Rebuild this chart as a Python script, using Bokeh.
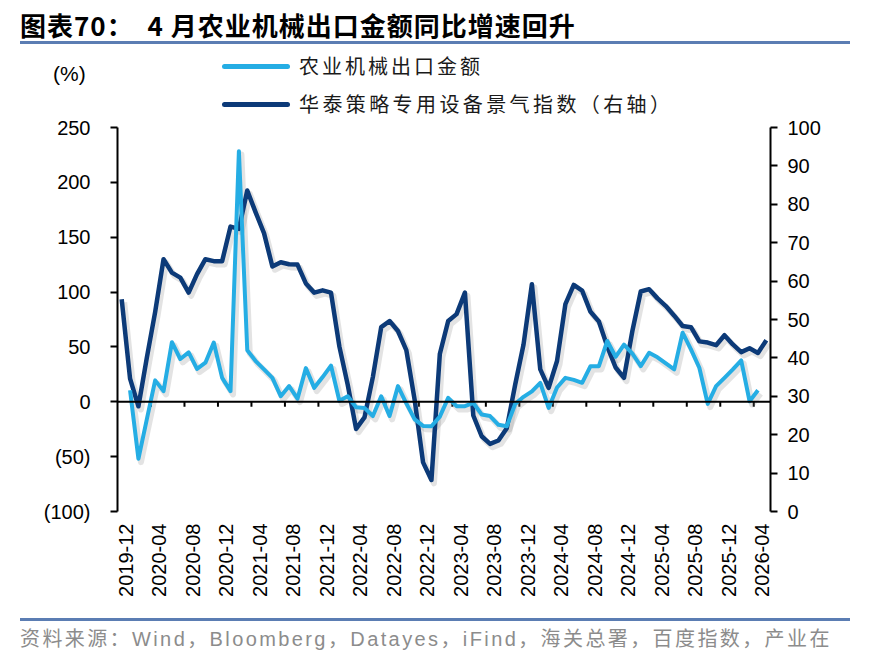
import numpy as np
from bokeh.plotting import figure
from bokeh.layouts import column
from bokeh.models import Range1d, LinearAxis, FixedTicker, Span, ColumnDataSource, Div
from bokeh.transform import dodge
from bokeh.embed import file_html
from bokeh.resources import INLINE

# ---------------- data ----------------
months = []
y, m = 2019, 12
while (y, m) <= (2026, 5):
    months.append(f"{y}-{m:02d}")
    m += 1
    if m > 12:
        y, m = y + 1, 1

# 农业机械出口金额 同比 (%) - left axis, 2019-12 .. 2026-05 (nan = no data)
agri_export = [np.nan, 10.5, -52, -16, 19.5, 9.7, 54.3, 39, 45, 30,
               35.6, 54, 21.8, 9.7, 228.4, 47, 37.1, 29.5, 21.8, 5.1,
               14.3, 2.8, 30.7, 12.7, 22.5, 33, 1, 5, -5, -5.6,
               -13, 5, -13, 14.3, -1.5, -16, -22, -22.3, -13.5, 3.6,
               -4, -4, -1, -11.6, -13, -21, -22.3, -2, 4.5, 9.5,
               17.3, -5.6, 13, 21.8, 20, 17.3, 32.5, 32.5, 55.4, 41,
               52, 44, 32.5, 44.7, 40.5, 35, 29.5, 63, 47.8, 31,
               -1.9, 14.3, 21.8, 29.5, 37.7, 0.5, 10.5, np.nan]

# 华泰策略专用设备景气指数 - right axis
equip_index = [55.3, 34.6, 27.4, 40, 52, 65.7, 62.2, 60.9, 57, 61.8,
               65.7, 65.2, 65.2, 74.2, 73.6, 83.6, 77.9, 72.5, 63.8, 64.9,
               64.4, 64.3, 59.4, 57, 57.6, 57, 43, 33, 21.5, 24.5,
               35, 48, 49.6, 47, 42, 29, 12.8, 8.2, 41, 49.6,
               51.4, 57, 25, 19.6, 17.6, 18.5, 21.7, 33, 43.5, 59.2,
               37, 32.2, 39.2, 54, 59, 57.5, 52, 49.5, 43, 37.5,
               34.8, 47, 57.3, 57.9, 55.5, 53.5, 51, 48.3, 48, 44.3,
               44, 43.3, 45.9, 43.5, 41.5, 42.5, 41.3, 44.6]

left_ticks = [-100, -50, 0, 50, 100, 150, 200, 250]
right_ticks = [0, 10, 20, 30, 40, 50, 60, 70, 80, 90, 100]
label_idx = list(range(0, len(months) - 1, 4))   # 2019-12, 2020-04, ... 2026-04

series_names = ["农业机械出口金额", "华泰策略专用设备景气指数（右轴）"]
title_text = "图表70：&nbsp;&nbsp;4 月农业机械出口金额同比增速回升"
source_text = "资料来源：Wind，Bloomberg，Datayes，iFind，海关总署，百度指数，产业在"
unit_text = "(%)"

LIGHT = "#25ADE4"
DARK = "#0C3A78"
RULE = "#5B7DB3"
CJK = "'Noto Sans CJK SC'"
LAT = "'Liberation Sans'"
TICK_FONT_SIZE = "20px"

# ---------------- header (title, rule, unit, legend) ----------------
H_TOP = 115
header_html = f"""
<div style="position:relative;width:870px;height:{H_TOP}px;overflow:visible;">
  <div style="position:absolute;left:20px;top:12px;font-family:{CJK};font-size:26px;font-weight:bold;
       line-height:26px;letter-spacing:1px;white-space:nowrap;color:#000;">{title_text}</div>
  <div style="position:absolute;left:20px;top:41px;width:830px;height:3px;background:{RULE};"></div>
  <div style="position:absolute;left:53px;top:63px;font-family:{LAT};font-size:21px;line-height:21px;
       white-space:nowrap;color:#000;">{unit_text}</div>
  <div style="position:absolute;left:222px;top:64px;width:68px;height:5px;border-radius:3px;background:{LIGHT};"></div>
  <div style="position:absolute;left:299px;top:56px;font-family:{CJK};font-size:20px;line-height:20px;
       letter-spacing:3px;white-space:nowrap;color:#1a1a1a;">{series_names[0]}</div>
  <div style="position:absolute;left:222px;top:102px;width:68px;height:5px;border-radius:3px;background:{DARK};"></div>
  <div style="position:absolute;left:299px;top:94px;font-family:{CJK};font-size:20px;line-height:20px;
       letter-spacing:3.4px;white-space:nowrap;color:#1a1a1a;">{series_names[1]}</div>
</div>
"""
header = Div(text=header_html, width=870, height=H_TOP, margin=(0, 0, 0, 0))

# ---------------- chart ----------------
FIG_BOTTOM = 612          # canvas y where the figure ends
FRAME_TOP, FRAME_BOTTOM = 127, 511

xs = list(range(len(months)))
src = ColumnDataSource(dict(x=xs, agri=agri_export, equip=equip_index))

p = figure(width=870, height=FIG_BOTTOM - H_TOP, output_backend="svg", toolbar_location=None,
           x_range=Range1d(-0.5, len(months) - 0.5), y_range=Range1d(-100, 250),
           min_border_left=117, min_border_right=100, min_border_top=FRAME_TOP - H_TOP,
           min_border_bottom=FIG_BOTTOM - FRAME_BOTTOM, background_fill_color="white",
           border_fill_color="white", margin=(0, 0, 0, 0))
p.outline_line_color = None
p.grid.visible = False
p.extra_y_ranges = {"r": Range1d(0, 100)}

# x axis (labels only, at bottom)
xa = p.xaxis[0]
xa.ticker = FixedTicker(ticks=[i + 0.5 for i in label_idx])
xa.major_label_overrides = {i + 0.5: months[i] for i in label_idx}
xa.major_label_orientation = np.pi / 2
xa.axis_line_color = None
xa.major_tick_line_color = None
xa.minor_tick_line_color = None
xa.major_label_standoff = 6
xa.major_label_text_font = "Liberation Sans"
xa.major_label_text_font_size = TICK_FONT_SIZE
xa.major_label_text_color = "black"

# left axis
ya = p.yaxis[0]
ya.ticker = FixedTicker(ticks=left_ticks)
ya.major_label_overrides = {t: (f"({-t})" if t < 0 else str(t)) for t in left_ticks}
ya.axis_line_width = 2
ya.axis_line_color = "black"
ya.major_tick_line_width = 2
ya.major_tick_in = 0
ya.major_tick_out = 7
ya.minor_tick_line_color = None
ya.major_label_standoff = 20
ya.major_label_text_font = "Liberation Sans"
ya.major_label_text_font_size = TICK_FONT_SIZE
ya.major_label_text_color = "black"

# right axis
ra = LinearAxis(y_range_name="r", ticker=FixedTicker(ticks=right_ticks))
ra.axis_line_width = 2
ra.axis_line_color = "black"
ra.major_tick_line_width = 2
ra.major_tick_in = 0
ra.major_tick_out = 7
ra.minor_tick_line_color = None
ra.major_label_standoff = 10
ra.major_label_text_font = "Liberation Sans"
ra.major_label_text_font_size = TICK_FONT_SIZE
ra.major_label_text_color = "black"
p.add_layout(ra, "right")

# zero line with tick marks between label groups
p.add_layout(Span(location=0, dimension="width", line_color="black", line_width=2))
bx = [i - 0.5 for i in label_idx[1:]]
p.segment(x0=bx, y0=[0] * len(bx), x1=bx, y1=[-4.5] * len(bx),
          line_color="black", line_width=2)

# soft drop shadows (same data, shifted a few px down-right)
p.line(x=dodge("x", 0.3), y=dodge("equip", -0.85, range=p.extra_y_ranges["r"]), source=src,
       y_range_name="r", line_color="#7f7f7f", line_alpha=0.22, line_width=6, line_join="round")
p.line(x=dodge("x", 0.3), y=dodge("agri", -3.0, range=p.y_range), source=src,
       line_color="#7f7f7f", line_alpha=0.22, line_width=6, line_join="round")

# series
p.line("x", "equip", source=src, y_range_name="r", line_color=DARK, line_width=4.5,
       line_join="round")
p.line("x", "agri", source=src, line_color=LIGHT, line_width=4, line_join="round")

# ---------------- footer (rule + source) ----------------
H_BOT = 665 - FIG_BOTTOM
footer_html = f"""
<div style="position:relative;width:870px;height:{H_BOT}px;overflow:visible;">
  <div style="position:absolute;left:20px;top:6px;width:830px;height:3px;background:{RULE};"></div>
  <div style="position:absolute;left:20px;top:17px;font-family:{LAT},{CJK};font-size:20px;line-height:20px;
       letter-spacing:2.4px;white-space:nowrap;color:#8c8c8c;">{source_text}</div>
</div>
"""
footer = Div(text=footer_html, width=870, height=H_BOT, margin=(0, 0, 0, 0))

layout = column(header, p, footer, spacing=0)
open("out.html", "w").write(file_html(layout, INLINE))
